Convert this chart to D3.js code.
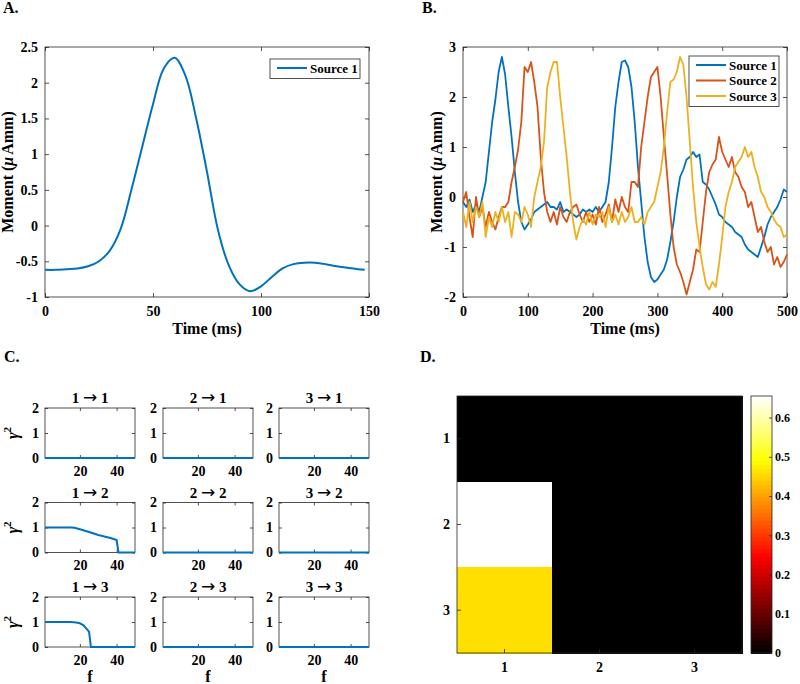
<!DOCTYPE html>
<html>
<head>
<meta charset="utf-8">
<script src="https://cdn.jsdelivr.net/npm/d3@7"></script>
<style>
  body { margin: 0; background: #fff; }
</style>
</head>
<body>
<script>
// ---- data ----

// panel A: single source moment
const timeA = [0, 5, 10, 15, 20, 25, 30, 35, 40, 45, 50, 55, 60, 65, 70, 75, 80, 85, 90, 95,
               100, 105, 110, 115, 120, 125, 130, 135, 140, 145, 148];
const momentA = [-0.62, -0.62, -0.61, -0.6, -0.57, -0.5, -0.35, -0.05, 0.5, 1.1,
                 1.7, 2.2, 2.35, 2.1, 1.5, 0.75, -0.05, -0.55, -0.82, -0.92,
                 -0.85, -0.72, -0.6, -0.54, -0.52, -0.52, -0.54, -0.57, -0.59, -0.61, -0.62];

// panel B: three sources, sampled every 5 ms
const timeB = d3.range(0, 505, 5);
const source1 = [
  -0.1, -0.2, -0.05, -0.3, -0.15, -0.3, 0.0, 0.3, 0.9, 1.5,
  1.95, 2.5, 2.8, 2.45, 1.8, 1.2, 0.5, -0.1, -0.5, -0.65,
  -0.55, -0.45, -0.3, -0.25, -0.2, -0.15, -0.1, -0.2, -0.2, -0.25,
  -0.1, -0.3, -0.25, -0.3, -0.35, -0.4, -0.35, -0.25, -0.3, -0.25,
  -0.3, -0.2, -0.3, -0.2, -0.1, 0.3, 1.0, 1.8, 2.3, 2.7,
  2.73, 2.6, 2.2, 1.5, 0.6, -0.1, -0.8, -1.3, -1.6, -1.7,
  -1.65, -1.55, -1.45, -1.25, -0.9, -0.5, 0.0, 0.4, 0.55, 0.75,
  0.8, 0.9, 0.8, 0.85, 0.3, 0.25, 0.15, 0.0, -0.15, -0.35,
  -0.4, -0.5, -0.55, -0.6, -0.7, -0.75, -0.8, -0.95, -1.05, -1.1,
  -1.15, -1.2, -1.0, -0.8, -0.55, -0.4, -0.3, -0.2, -0.05, 0.15,
  0.1];
const source2 = [
  -0.1, 0.1, -0.4, -0.8, 0.0, -0.4, -0.2, -0.6, -0.3, -0.5,
  -0.65, -0.4, -0.2, -0.2, -0.1, 0.3, 0.6, 0.95, 1.5, 2.6,
  2.5, 2.7, 2.3, 1.8, 0.8, 0.1, -0.3, -0.5, -0.3, -0.55,
  -0.2, -0.4, -0.5, -0.3, -0.2, -0.15, -0.35, -0.5, -0.3, -0.5,
  -0.35, -0.55, -0.2, -0.5, -0.35, -0.15, -0.5, -0.05, -0.3, 0.0,
  -0.2, -0.3, 0.3, 0.3, 0.2, 1.0, 1.5, 2.0, 2.4, 2.5,
  2.6, 2.0, 1.2, 0.45, -0.35, -1.0, -1.35, -1.5, -1.7, -1.95,
  -1.7, -1.45, -1.05, -1.1, -0.5, 0.1, 0.5, 0.65, 0.75, 1.2,
  0.9, 0.75, 0.6, 0.8, 0.5, 0.4, 0.2, 0.1, -0.2, -0.1,
  -0.4, -0.7, -0.6, -0.9, -1.1, -1.0, -1.35, -1.2, -1.4, -1.3,
  -1.15];
const source3 = [
  -0.3, -0.6, -0.1, -0.5, -0.2, -0.4, -0.1, -0.8, -0.4, -0.6,
  -0.3, -0.5, -0.2, -0.5, -0.3, -0.8, -0.3, -0.35, -0.5, -0.2,
  -0.35, -0.6, 0.0, 0.3, 0.6, 1.1, 2.2, 2.5, 2.7, 2.7,
  2.0, 1.4, 0.8, 0.1, -0.5, -0.85, -0.6, -0.45, -0.55, -0.3,
  -0.55, -0.35, -0.4, -0.3, -0.6, -0.2, -0.5, -0.35, -0.55, -0.3,
  -0.5, -0.4, -0.2, -0.5, -0.5, -0.4, -0.55, -0.3, -0.2, -0.1,
  0.2, 0.5, 1.0, 1.7, 2.3, 2.35, 2.5, 2.8, 2.65, 2.0,
  1.1, 0.2, -0.5, -1.0, -1.4, -1.75, -1.85, -1.7, -1.8, -1.35,
  -0.8, -0.2, 0.1, 0.3, 0.6, 0.7, 0.8, 1.0, 0.8, 0.9,
  0.6, 0.4, 0.1, 0.0, -0.2, -0.3, -0.45, -0.55, -0.6, -0.8,
  -0.75];
const sourceNames = ["Source 1", "Source 2", "Source 3"];

// panel C: spectral coherence for each pair (from -> to)
const pairFrom = ["1", "2", "3", "1", "2", "3", "1", "2", "3"];
const pairTo   = ["1", "1", "1", "2", "2", "2", "3", "3", "3"];
const zeroF = [1, 50];
const zeroV = [0, 0];
const coh12F = [1, 5, 10, 15, 17, 20, 25, 30, 35, 38, 40, 41, 45, 50];
const coh12V = [1, 1, 1, 1, 0.99, 0.93, 0.82, 0.7, 0.61, 0.55, 0.5, 0, 0, 0];
const coh13F = [1, 5, 10, 15, 18, 20, 22, 24, 25, 26, 30, 40, 50];
const coh13V = [1, 1, 1, 1, 0.98, 0.95, 0.87, 0.7, 0.6, 0, 0, 0, 0];
const cohF = [zeroF, zeroF, zeroF, coh12F, zeroF, zeroF, coh13F, zeroF, zeroF];
const cohV = [zeroV, zeroV, zeroV, coh12V, zeroV, zeroV, coh13V, zeroV, zeroV];

// panel D: connectivity matrix
const matLabels = ["1", "2", "3"];
const matValues = [[0, 0, 0],
                   [0.655, 0, 0],
                   [0.46, 0, 0]];
const cbarTicks = [0, 0.1, 0.2, 0.3, 0.4, 0.5, 0.6];

// ---- drawing ----
const FONT = '"Liberation Serif", "Times New Roman", serif';
const AX = "#262626";
const colors = ["#0072BD", "#D95319", "#EDB120"];

const svg = d3.select("body").append("svg")
  .attr("width", 800).attr("height", 684)
  .style("font-family", FONT).style("font-weight", "bold");

svg.append("rect").attr("width", 800).attr("height", 684).attr("fill", "#fff");

function txt(x, y, s, size, anchor) {
  return svg.append("text")
    .attr("x", x).attr("y", y)
    .attr("font-size", size)
    .attr("text-anchor", anchor || "start")
    .attr("fill", "#000")
    .text(s);
}

// MATLAB style box axes, ticks pointing inward on all four sides
function frame(x, y, xt, yt, o) {
  const [xa, xb] = x.range(), [yb, ya] = y.range();
  const tk = o.tick || 4;
  const g = svg.append("g");
  g.append("g").attr("transform", `translate(0,${yb})`)
    .call(d3.axisBottom(x).tickValues(xt).tickSize(-tk).tickPadding(o.xpad).tickFormat(d => String(d)));
  g.append("g").attr("transform", `translate(0,${ya})`)
    .call(d3.axisTop(x).tickValues(xt).tickSize(-tk).tickFormat(""));
  g.append("g").attr("transform", `translate(${xa},0)`)
    .call(d3.axisLeft(y).tickValues(yt).tickSize(-tk).tickPadding(o.ypad).tickFormat(d => String(d)));
  g.append("g").attr("transform", `translate(${xb},0)`)
    .call(d3.axisRight(y).tickValues(yt).tickSize(-tk).tickFormat(""));
  g.selectAll(".domain").remove();
  g.selectAll(".tick line").attr("stroke", AX).attr("stroke-width", 0.8);
  g.selectAll(".tick text")
    .attr("font-family", FONT).attr("font-weight", "bold")
    .attr("font-size", o.fs).attr("fill", "#000");
  g.append("rect")
    .attr("x", xa).attr("y", ya)
    .attr("width", xb - xa).attr("height", yb - ya)
    .attr("fill", "none").attr("stroke", AX).attr("stroke-width", 0.8);
}

function momentLabel(x, y) {
  const t = svg.append("text")
    .attr("transform", `translate(${x},${y}) rotate(-90)`)
    .attr("text-anchor", "middle").attr("font-size", 16).attr("fill", "#000");
  t.append("tspan").text("Moment (");
  t.append("tspan").attr("font-style", "italic").text("\u03BC");
  t.append("tspan").attr("dx", 2).text("Amm)");
}

function legend(x0, y0, w, names, cols) {
  const h = names.length * 15.5 + 4;
  svg.append("rect").attr("x", x0).attr("y", y0).attr("width", w).attr("height", h)
    .attr("fill", "#fff").attr("stroke", AX).attr("stroke-width", 0.8);
  names.forEach((n, i) => {
    const yy = y0 + 9 + i * 15.5;
    svg.append("line")
      .attr("x1", x0 + 7).attr("x2", x0 + 37).attr("y1", yy).attr("y2", yy)
      .attr("stroke", cols[i]).attr("stroke-width", 2);
    txt(x0 + 40, yy + 4.5, n, 13);
  });
}

// Panel A
{
  const x = d3.scaleLinear().domain([0, 150]).range([45, 369]);
  const y = d3.scaleLinear().domain([-1, 2.5]).range([297, 47]);
  frame(x, y, [0, 50, 100, 150], [-1, -0.5, 0, 0.5, 1, 1.5, 2, 2.5], { xpad: 9, ypad: 7, fs: 14 });
  const line = d3.line().x((d, i) => x(timeA[i])).y(d => y(d)).curve(d3.curveCatmullRom);
  svg.append("path").datum(momentA).attr("d", line)
    .attr("fill", "none").attr("stroke", colors[0]).attr("stroke-width", 2);
  legend(270, 59, 90, ["Source 1"], colors);
  txt(3, 13, "A.", 16);
  momentLabel(13, 172);
  txt(207, 334, "Time (ms)", 16, "middle");
}

// Panel B
{
  const x = d3.scaleLinear().domain([0, 500]).range([463, 787]);
  const y = d3.scaleLinear().domain([-2, 3]).range([297, 47]);
  frame(x, y, [0, 100, 200, 300, 400, 500], [-2, -1, 0, 1, 2, 3], { xpad: 9, ypad: 7, fs: 14 });
  const line = d3.line().x((d, i) => x(timeB[i])).y(d => y(d));
  [source1, source2, source3].forEach((s, k) => {
    svg.append("path").datum(s).attr("d", line)
      .attr("fill", "none").attr("stroke", colors[k]).attr("stroke-width", 1.8)
      .attr("stroke-linejoin", "round");
  });
  legend(689, 56, 90, sourceNames, colors);
  txt(422, 13, "B.", 16);
  momentLabel(442, 172);
  txt(625, 334, "Time (ms)", 16, "middle");
}

// Panel C
{
  txt(4, 362, "C.", 16);
  const colX = [45, 163, 279];
  const rowY = [408, 502.5, 597];
  pairFrom.forEach((from, k) => {
    const r = Math.floor(k / 3), c = k % 3;
    const x = d3.scaleLinear().domain([1, 50]).range([colX[c], colX[c] + 90]);
    const y = d3.scaleLinear().domain([0, 2]).range([rowY[r] + 50, rowY[r]]);
    frame(x, y, [20, 40], [0, 1, 2], { xpad: 8, ypad: 6, fs: 14, tick: 3 });
    const line = d3.line().x((d, i) => x(cohF[k][i])).y(d => y(d));
    svg.append("path").datum(cohV[k]).attr("d", line)
      .attr("fill", "none").attr("stroke", colors[0]).attr("stroke-width", 2);
    const t = txt(colX[c] + 45, rowY[r] - 5, null, 15, "middle");
    t.append("tspan").text(from + " ");
    t.append("tspan").attr("font-family", "DejaVu Sans").attr("font-weight", "normal")
      .attr("font-size", 17).text("\u2192");
    t.append("tspan").text(" " + pairTo[k]);
    if (c === 0) {
      const g = svg.append("text")
        .attr("transform", `translate(18,${rowY[r] + 25}) rotate(-90)`)
        .attr("text-anchor", "middle").attr("font-size", 16).attr("fill", "#000");
      g.append("tspan").attr("font-style", "italic").text("\u03B3");
      g.append("tspan").attr("font-size", 11).attr("dy", -7).text("2");
    }
    if (r === 2) txt(colX[c] + 45, 682, "f", 16, "middle");
  });
}

// Panel D
{
  txt(420, 362, "D.", 16);
  const x = d3.scaleBand().domain(matLabels).range([457, 742]);
  const y = d3.scaleBand().domain(matLabels).range([396, 653]);
  const cmax = 0.655;
  const hot = d3.scaleLinear()
    .domain([0, 0.375 * cmax, 0.75 * cmax, cmax])
    .range(["#000000", "#ff0000", "#ffff00", "#ffffff"])
    .clamp(true);

  matValues.forEach((row, i) => {
    row.forEach((v, j) => {
      svg.append("rect")
        .attr("x", x(matLabels[j])).attr("y", y(matLabels[i]))
        .attr("width", x.bandwidth() + 0.5).attr("height", y.bandwidth() + 0.5)
        .attr("fill", hot(v))
        .attr("shape-rendering", "crispEdges");
    });
  });

  const g = svg.append("g");
  g.append("g").attr("transform", "translate(0,653)")
    .call(d3.axisBottom(x).tickSize(-4).tickPadding(9));
  g.append("g").attr("transform", "translate(457,0)")
    .call(d3.axisLeft(y).tickSize(-4).tickPadding(7));
  g.selectAll(".domain").remove();
  g.selectAll(".tick line").attr("stroke", AX).attr("stroke-width", 0.8);
  g.selectAll(".tick text").attr("font-family", FONT).attr("font-weight", "bold")
    .attr("font-size", 14).attr("fill", "#000");
  svg.append("rect").attr("x", 457).attr("y", 396).attr("width", 285).attr("height", 257)
    .attr("fill", "none").attr("stroke", AX).attr("stroke-width", 0.8);

  // colorbar
  const cy = d3.scaleLinear().domain([0, cmax]).range([653, 396]);
  const steps = d3.range(64);
  svg.append("g").selectAll("rect").data(steps).join("rect")
    .attr("x", 751).attr("width", 21)
    .attr("y", d => cy((d + 1) * cmax / 64))
    .attr("height", d => cy(d * cmax / 64) - cy((d + 1) * cmax / 64) + 0.5)
    .attr("fill", d => hot((d + 0.5) * cmax / 64))
    .attr("shape-rendering", "crispEdges");
  const cb = svg.append("g").attr("transform", "translate(772,0)")
    .call(d3.axisRight(cy).tickValues(cbarTicks).tickSize(-3).tickPadding(3).tickFormat(d => String(d)));
  cb.select(".domain").remove();
  cb.selectAll(".tick line").attr("stroke", AX).attr("stroke-width", 0.8);
  cb.selectAll(".tick text").attr("font-family", FONT).attr("font-weight", "bold")
    .attr("font-size", 12).attr("fill", "#000");
  svg.append("rect").attr("x", 751).attr("y", 396).attr("width", 21).attr("height", 257)
    .attr("fill", "none").attr("stroke", AX).attr("stroke-width", 0.8);
}
</script>
</body>
</html>
